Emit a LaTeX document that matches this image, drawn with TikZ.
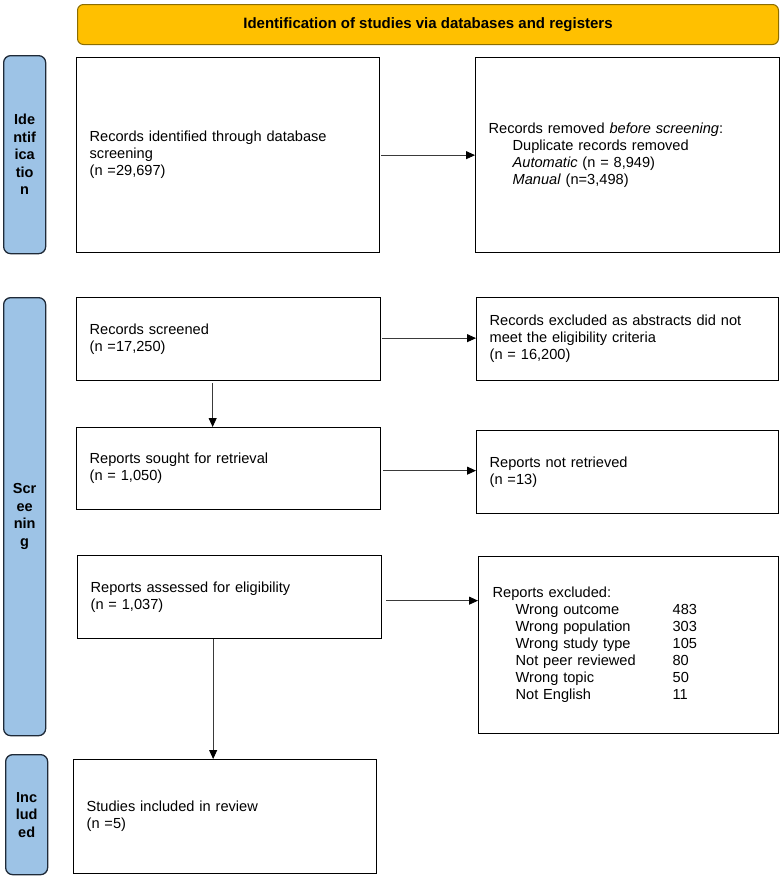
\documentclass[tikz,border=0pt]{standalone}
\usepackage{fontspec}
\setmainfont{Liberation Sans}
\usetikzlibrary{arrows.meta,calc}
\definecolor{hdrfill}{HTML}{FFC000}
\definecolor{hdrline}{HTML}{8C6D00}
\definecolor{sidefill}{HTML}{9DC3E6}
\definecolor{sideline}{HTML}{1F2A38}
\definecolor{arrline}{HTML}{3A3A3A}
\begin{document}
\begin{tikzpicture}[x=1pt,y=-1pt,
  box/.style={draw=black, line width=1.3pt, rectangle, anchor=north west,
    inner xsep=13pt, inner ysep=0pt, align=left,
    font=\fontsize{14.6}{17}\selectfont},
  side/.style={draw=sideline, fill=sidefill, line width=1.3pt, rounded corners=7pt,
    anchor=north west, inner sep=0pt, align=center,
    font=\fontsize{14.5}{17.5}\selectfont\bfseries},
  arr/.style={draw=arrline, line width=0.9pt, -{Triangle[length=9pt,width=8pt,color=black]}}
]
\useasboundingbox (0,0) rectangle (780,876);

% header
\node[draw=hdrline, fill=hdrfill, line width=1pt, rounded corners=6pt, anchor=north west,
  minimum width=701pt, minimum height=40pt, inner sep=0pt,
  font=\fontsize{15}{17}\selectfont\bfseries] (hdr) at (77,4)
  {Identification of studies via databases and registers};

% side labels
\node[side, minimum width=42pt, minimum height=198pt, text width=40pt] (sid) at (3,55)
  {Ide\\ntif\\ica\\tio\\n};
\node[side, minimum width=42pt, minimum height=438pt, text width=40pt] (ssc) at (3,297)
  {Scr\\ee\\nin\\g};
\node[side, minimum width=42pt, minimum height=120pt, text width=40pt] (sin) at (5,754)
  {Inc\\lud\\ed};

% boxes
\node[box, text width=277pt, minimum height=195pt] (rid) at (76,57)
  {Records identified through database\\screening\\(n =29,697)};
\node[box, text width=278pt, minimum height=195pt] (rrm) at (475,57)
  {Records removed \textit{before screening}:\\
   \hspace*{24pt}Duplicate records removed\\
   \hspace*{24pt}\textit{Automatic} (n = 8,949)\\
   \hspace*{24pt}\textit{Manual} (n=3,498)};

\node[box, text width=278pt, minimum height=83pt] (rsc) at (76,297)
  {Records screened\\(n =17,250)};
\node[box, text width=276pt, minimum height=83pt] (rex) at (476,297)
  {Records excluded as abstracts did not\\meet the eligibility criteria\\(n = 16,200)};

\node[box, text width=278pt, minimum height=82pt] (rso) at (76,427)
  {Reports sought for retrieval\\(n = 1,050)};
\node[box, text width=276pt, minimum height=83pt] (rnr) at (476,430)
  {Reports not retrieved\\(n =13)};

\node[box, text width=278pt, minimum height=83pt] (ras) at (77,555)
  {Reports assessed for eligibility\\(n = 1,037)};
\node[box, text width=272pt, minimum height=177pt, inner xsep=14pt] (rxe) at (478,556)
  {Reports excluded:\\
   \hspace*{23pt}\makebox[157pt][l]{Wrong outcome}483\\
   \hspace*{23pt}\makebox[157pt][l]{Wrong population}303\\
   \hspace*{23pt}\makebox[157pt][l]{Wrong study type}105\\
   \hspace*{23pt}\makebox[157pt][l]{Not peer reviewed}80\\
   \hspace*{23pt}\makebox[157pt][l]{Wrong topic}50\\
   \hspace*{23pt}\makebox[157pt][l]{Not English}11};

\node[box, text width=277pt, minimum height=114pt] (sti) at (73,759)
  {Studies included in review\\(n =5)\\[9pt]};

% connectors
\draw[arr, shorten <=1pt] (rid.east) -- (rid.east -| rrm.west);
\draw[arr, shorten <=1pt] ([yshift=1pt]rsc.east) -- ([yshift=1pt]rsc.east -| rex.west);
\draw[arr, shorten <=2pt] ([yshift=-2pt]rso.east) -- ([yshift=-2pt]rso.east -| rnr.west);
\draw[arr, shorten <=4pt] ([yshift=-3.5pt]ras.east) -- ([yshift=-3.5pt]ras.east -| rxe.west);
\draw[arr, shorten <=2pt] ([xshift=-16pt]rsc.south) -- ([xshift=-16pt]rsc.south |- rso.north);
\draw[arr] ([xshift=-16.5pt]ras.south) -- ([xshift=-16.5pt]ras.south |- sti.north);
\end{tikzpicture}
\end{document}
